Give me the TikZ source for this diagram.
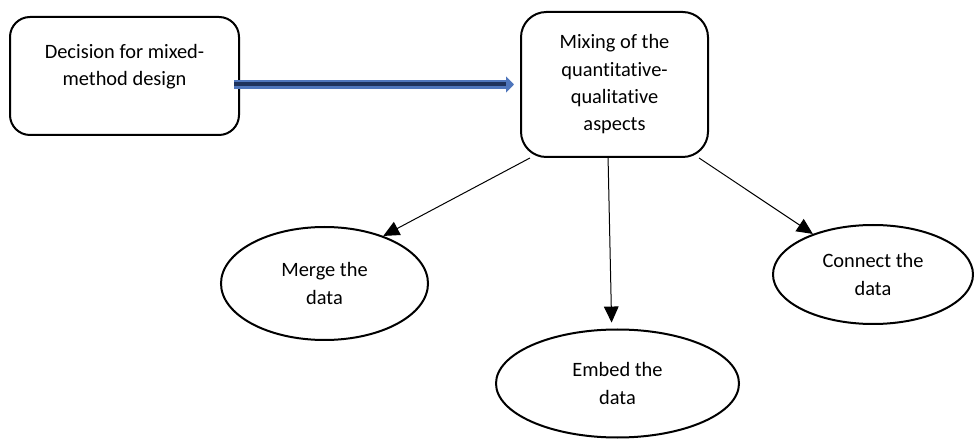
\documentclass[tikz,border=0pt]{standalone}
\usepackage{fontspec}
\setmainfont{Carlito}[Ligatures=NoCommon]
\usetikzlibrary{arrows.meta,calc,positioning,shapes.geometric}
\definecolor{flowblue}{RGB}{79,118,188}
\definecolor{flownavy}{RGB}{30,50,92}
\tikzset{
  txt/.style={font=\fontsize{15.3}{20.5}\selectfont,align=center,inner sep=0pt},
  stepbox/.style={draw=black,line width=1.5pt,fill=white,inner sep=0pt},
  bubble/.style={stepbox,ellipse,txt},
  link/.style={-{Triangle[length=12pt,width=11pt]},line width=0.75pt},
  flow/.style={draw=flownavy,line width=3pt,
               -{Triangle[length=6pt,width=12pt,color=flowblue]},
               preaction={-,draw=flowblue,line width=6.5pt,shorten >=5pt}},
}

\begin{document}
\begin{tikzpicture}[x=0.75pt,y=-0.75pt]
  \path[use as bounding box] (0,0) rectangle (974,441);

  % boxes
  \node[stepbox,rounded corners=15pt,minimum width=171.75pt,minimum height=88.5pt]
    (decision) at (124.5,76) {};
  \node[txt] (decisiontext) at (124.5,66.5) {Decision for mixed-\\method design};
  \node[stepbox,txt,rounded corners=19pt,minimum width=140.25pt,minimum height=108.75pt]
    (mixing) at (614.5,84.5) {Mixing of the\\quantitative-\\qualitative\\aspects};

  % ellipses
  \node[bubble,minimum width=155.25pt,minimum height=84.75pt] (merge) at (324.5,283.5)
    {Merge the\\data};
  \node[bubble,minimum width=182.25pt,minimum height=81pt] (embed) at (617.5,383.5)
    {Embed the\\data};
  \node[bubble,minimum width=150pt,minimum height=74.25pt] (connect) at (873,274.5)
    {Connect the\\data};

  \draw[flow] ([xshift=-4.5pt]decision.east |- mixing.west) -- ([xshift=-4.5pt]mixing.west);
  \draw[link] (mixing.221) -- (merge.39);
  \draw[link,shorten >=4.5pt] (mixing.265) -- (embed.96);
  \draw[link] (mixing.319) -- (connect.146);
\end{tikzpicture}
\end{document}
